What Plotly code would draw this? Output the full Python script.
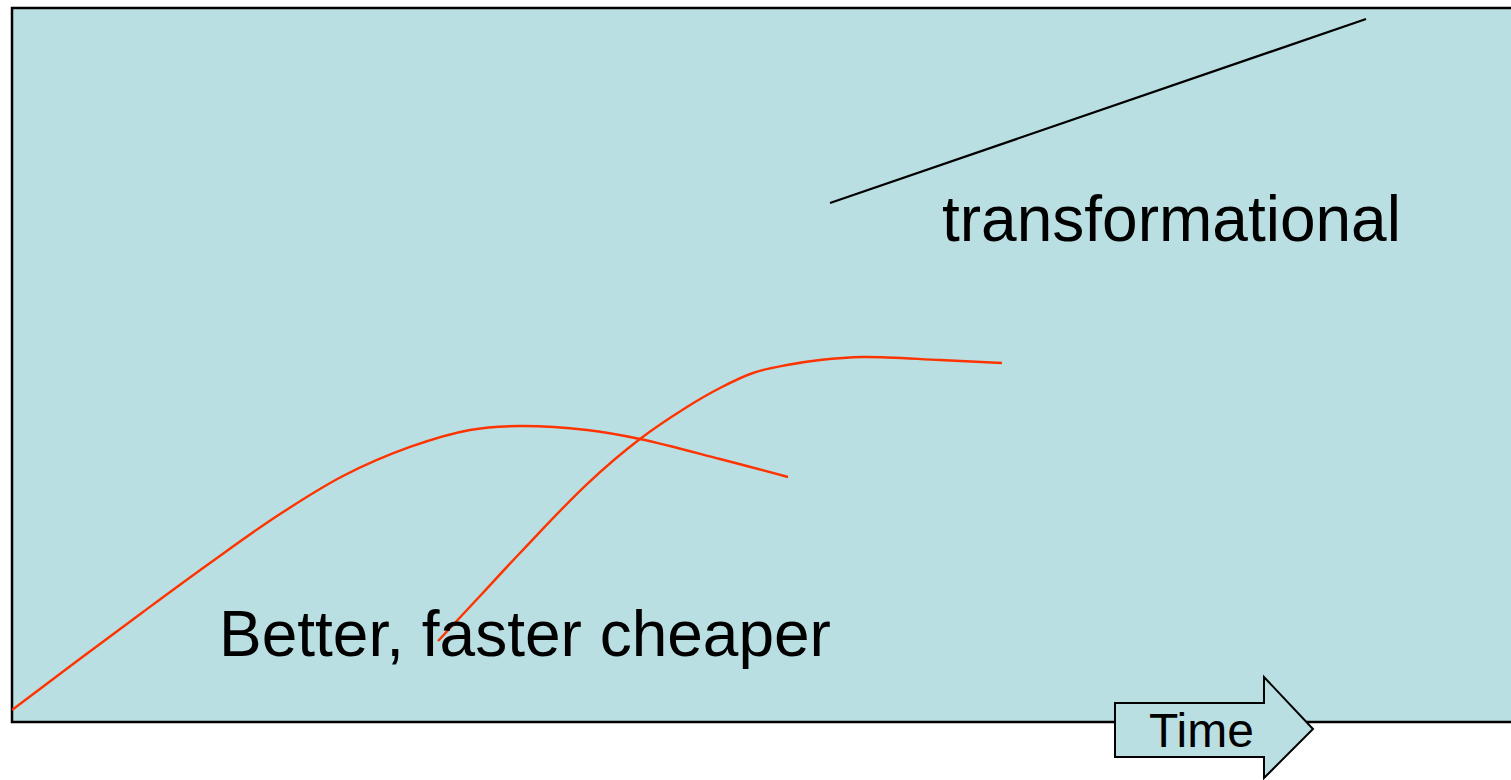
import plotly.graph_objects as go

# Two successive "better, faster, cheaper" S-curves (time vs. performance)
curve1_time = [0, 4.34, 8.74, 13.21, 17.68, 22.08, 26.55, 30.55, 33.89, 38.36, 41.89, 47.23, 51.77]
curve1_perf = [1.68, 8.54, 15.41, 22.27, 28.85, 34.45, 38.52, 40.90, 41.46, 40.90, 39.64, 36.83, 34.31]

curve2_time = [28.42, 31.22, 33.89, 38.36, 41.89, 45.03, 47.23, 49.43, 51.70, 53.90, 56.77, 61.91, 66.04]
curve2_perf = [11.34, 17.65, 23.67, 33.33, 39.64, 44.12, 46.78, 48.88, 50.00, 50.70, 51.12, 50.70, 50.28]

# Transformational trajectory
transform_time = [54.57, 90.33]
transform_perf = [72.69, 98.46]

labels = ["Better, faster cheaper", "transformational", "Time"]

BG = "#BADFE2"
RED = "#FF3300"
FONT = "Liberation Sans, Arial, sans-serif"

W, H = 1511, 780
ML, MR, MT, MB = 12, 0, 8, 58
PW, PH = W - ML - MR, H - MT - MB


def px(x):
    return (x - ML) / PW


def py(y):
    return (H - MB - y) / PH


fig = go.Figure()
for xs, ys in [(curve1_time, curve1_perf), (curve2_time, curve2_perf)]:
    fig.add_trace(go.Scatter(x=xs, y=ys, mode="lines",
                             line=dict(color=RED, width=2.4, shape="spline", smoothing=1.0),
                             hoverinfo="skip"))
fig.add_trace(go.Scatter(x=transform_time, y=transform_perf, mode="lines",
                         line=dict(color="black", width=2.2),
                         hoverinfo="skip"))

shapes = [
    # panel background with a black frame (open at the right edge)
    dict(type="rect", xref="paper", yref="paper", x0=0, x1=1.01, y0=0, y1=1,
         fillcolor=BG, line=dict(color="black", width=2.5), layer="below"),
]

# "Time" block arrow below the panel
arrow_pts = [(1115, 703), (1264, 703), (1264, 677), (1313, 729),
             (1264, 778), (1264, 757), (1115, 757)]
path = "M " + " L ".join(f"{px(x):.5f},{py(y):.5f}" for x, y in arrow_pts) + " Z"
shapes.append(dict(type="path", xref="paper", yref="paper", path=path,
                   fillcolor=BG, line=dict(color="black", width=2), layer="above"))

annotations = [
    dict(x=13.67, y=12.39, xref="x", yref="y", text=labels[0], showarrow=False,
         xanchor="left", yanchor="middle", font=dict(family=FONT, size=64, color="black")),
    dict(x=61.91, y=70.38, xref="x", yref="y", text=labels[1], showarrow=False,
         xanchor="left", yanchor="middle", font=dict(family=FONT, size=64, color="black")),
    dict(x=px(1201), y=py(730), xref="paper", yref="paper", text=labels[2], showarrow=False,
         xanchor="center", yanchor="middle", font=dict(family=FONT, size=48, color="black")),
]

fig.update_layout(
    width=W, height=H,
    margin=dict(l=ML, r=MR, t=MT, b=MB, pad=0),
    paper_bgcolor="white",
    plot_bgcolor="rgba(0,0,0,0)",
    showlegend=False,
    shapes=shapes,
    annotations=annotations,
    xaxis=dict(range=[0, 100], visible=False, fixedrange=True),
    yaxis=dict(range=[0, 100], visible=False, fixedrange=True),
)

fig.write_html("out.html", config={"displayModeBar": False})
